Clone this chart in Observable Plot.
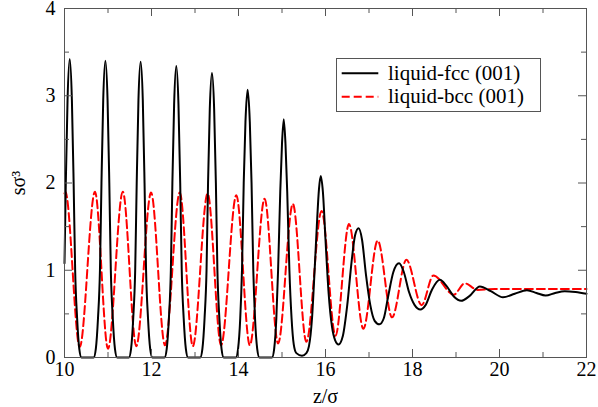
<!DOCTYPE html>
<html><head><meta charset="utf-8">
<script src="https://cdn.jsdelivr.net/npm/d3@7"></script>
<script src="https://cdn.jsdelivr.net/npm/@observablehq/plot@0.6"></script>
<style>
html,body{margin:0;padding:0;background:#fff;}
#wrap{position:relative;width:598px;height:407px;font-family:"Liberation Serif","DejaVu Serif",serif;}
#wrap svg text{font-family:"Liberation Serif","DejaVu Serif",serif !important;}
#legend{position:absolute;left:336px;top:58px;}
</style>
</head><body>
<div id="wrap"></div>
<script>
// density profiles s*sigma^3 vs z/sigma
const fcc = [
[10.00,1.08],[10.03,2.0],[10.07,2.95],[10.12,3.42],[10.17,2.95],[10.21,2.0],[10.245,1.0],[10.29,0.45],[10.34,0.1],[10.39,0],
[10.67,0],[10.72,0.1],[10.77,0.45],[10.815,1.0],[10.85,2.0],[10.89,2.95],[10.94,3.40],[10.99,2.95],[11.03,2.0],[11.065,1.0],[11.11,0.45],[11.16,0.1],[11.21,0],
[11.48,0],[11.53,0.1],[11.58,0.45],[11.625,1.0],[11.66,2.0],[11.70,2.95],[11.75,3.39],[11.80,2.95],[11.84,2.0],[11.875,1.0],[11.92,0.45],[11.97,0.1],[12.02,0],
[12.30,0],[12.35,0.1],[12.40,0.45],[12.445,1.0],[12.48,2.0],[12.52,2.9],[12.57,3.34],[12.62,2.9],[12.66,2.0],[12.695,1.0],[12.74,0.45],[12.79,0.1],[12.84,0],
[13.12,0],[13.17,0.1],[13.22,0.45],[13.265,1.0],[13.30,2.0],[13.34,2.85],[13.39,3.26],[13.44,2.85],[13.48,2.0],[13.515,1.0],[13.56,0.45],[13.61,0.1],[13.66,0],
[13.94,0],[13.99,0.1],[14.04,0.45],[14.08,1.0],[14.12,2.0],[14.16,2.7],[14.21,3.07],[14.26,2.7],[14.30,2.0],[14.34,1.0],[14.38,0.45],[14.43,0.1],[14.48,0],
[14.77,0],[14.82,0.1],[14.87,0.45],[14.91,1.0],[14.96,1.9],[15.00,2.45],[15.04,2.73],[15.08,2.45],[15.12,1.9],[15.17,1.0],[15.22,0.45],[15.27,0.15],[15.33,0.05],[15.46,0.02],[15.56,0.05],
[15.62,0.13],[15.69,0.45],[15.75,1.0],[15.80,1.5],[15.85,1.93],[15.89,2.08],[15.94,1.9],[16.00,1.35],[16.07,0.75],[16.15,0.35],[16.22,0.2],[16.30,0.15],
[16.40,0.25],[16.50,0.6],[16.60,1.1],[16.68,1.4],[16.76,1.48],[16.84,1.35],[16.93,0.95],[17.03,0.6],[17.13,0.42],[17.24,0.38],[17.34,0.45],[17.44,0.7],[17.56,0.98],[17.69,1.08],
[17.80,0.98],[17.92,0.75],[18.05,0.6],[18.18,0.55],[18.30,0.6],[18.45,0.78],[18.63,0.89],[18.78,0.82],[18.95,0.7],[19.12,0.65],[19.30,0.7],[19.55,0.815],
[19.80,0.76],[20.08,0.69],[20.35,0.73],[20.63,0.77],[20.85,0.74],[21.06,0.71],[21.28,0.74],[21.50,0.76],[21.75,0.75],[22.00,0.73]
];
const bcc = [
[10.00,1.88],[10.02,1.90],[10.35,0.12],[10.70,1.90],[11.00,0.10],[11.34,1.90],[11.65,0.13],[11.99,1.89],[12.31,0.14],[12.65,1.89],
[12.95,0.13],[13.29,1.88],[13.60,0.14],[13.95,1.86],[14.26,0.14],[14.60,1.82],[14.91,0.16],[15.25,1.76],[15.56,0.18],[15.91,1.68],
[16.23,0.25],[16.54,1.53],[16.87,0.33],[17.20,1.34],[17.53,0.46],[17.86,1.12],[18.21,0.60],[18.48,0.94],[18.95,0.72],[19.20,0.85],
[19.50,0.775],[19.90,0.785],[20.50,0.785],[21.20,0.785],[22.00,0.785]
];
const seriesNames = ["liquid-fcc (001)", "liquid-bcc (001)"];
const xMajor = [10, 12, 14, 16, 18, 20, 22];
const xMinor = [11, 13, 15, 17, 19, 21];
const yMajor = [0, 1, 2, 3, 4];
const yMinor = [0.5, 1.5, 2.5, 3.5];
const xLabel = "z/σ";
const yLabel = "sσ³";

const toRows = (arr) => arr.map(([z, s]) => ({z, s}));
const frameW = 598 - 64 - 12, frameH = 407 - 8 - 50;
const axisColor = "#555";
const fmt = d => String(d);
const serif = "Liberation Serif, DejaVu Serif, serif";

const chart = Plot.plot({
  width: 598, height: 407,
  marginLeft: 64, marginRight: 12, marginTop: 8, marginBottom: 50,
  style: {fontFamily: serif, fontSize: "20px", color: "#000", background: "#fff", overflow: "visible"},
  x: {domain: [10, 22]},
  y: {domain: [0, 4]},
  marks: [
    Plot.line(toRows(bcc), {x: "z", y: "s", curve: "monotone-x", stroke: "#ff0000", strokeWidth: 2, strokeDasharray: "8,4"}),
    Plot.line(toRows(fcc), {x: "z", y: "s", curve: "monotone-x", stroke: "#000", strokeWidth: 2}),
    Plot.tickX(xMajor, {x: d => d, insetTop: frameH - 8, stroke: axisColor}),
    Plot.tickX(xMajor, {x: d => d, insetBottom: frameH - 8, stroke: axisColor}),
    Plot.tickX(xMinor, {x: d => d, insetTop: frameH - 5, stroke: axisColor}),
    Plot.tickX(xMinor, {x: d => d, insetBottom: frameH - 5, stroke: axisColor}),
    Plot.tickY(yMajor, {y: d => d, insetRight: frameW - 8, stroke: axisColor}),
    Plot.tickY(yMajor, {y: d => d, insetLeft: frameW - 8, stroke: axisColor}),
    Plot.tickY(yMinor, {y: d => d, insetRight: frameW - 5, stroke: axisColor}),
    Plot.tickY(yMinor, {y: d => d, insetLeft: frameW - 5, stroke: axisColor}),
    Plot.frame({stroke: axisColor}),
    Plot.axisX(xMajor, {tickSize: 0, tickPadding: 4, tickFormat: fmt, label: xLabel, labelAnchor: "center", labelArrow: "none", labelOffset: 45, fontFamily: serif}),
    Plot.axisY(yMajor, {tickSize: 0, tickPadding: 9, tickFormat: fmt, label: yLabel, labelAnchor: "center", labelArrow: "none", labelOffset: 54, fontFamily: serif})
  ]
});
const wrap = document.getElementById("wrap");
wrap.appendChild(chart);

// legend overlay
const leg = d3.select(wrap).append("svg").attr("id", "legend").attr("width", 206).attr("height", 55);
leg.append("rect").attr("x", 0.5).attr("y", 0.5).attr("width", 204).attr("height", 53).attr("fill", "#fff").attr("stroke", axisColor);
const styles = [{stroke: "#000", dash: null}, {stroke: "#ff0000", dash: "8,4"}];
seriesNames.forEach((name, i) => {
  const cy = 15.3 + i * 23.4;
  leg.append("line").attr("x1", 5.7).attr("x2", 42.3).attr("y1", cy).attr("y2", cy)
    .attr("stroke", styles[i].stroke).attr("stroke-width", 2).attr("stroke-dasharray", styles[i].dash);
  leg.append("text").attr("x", 52).attr("y", cy + 6.3).attr("font-size", 21)
    .style("font-family", serif).text(name);
});
</script>
</body></html>
